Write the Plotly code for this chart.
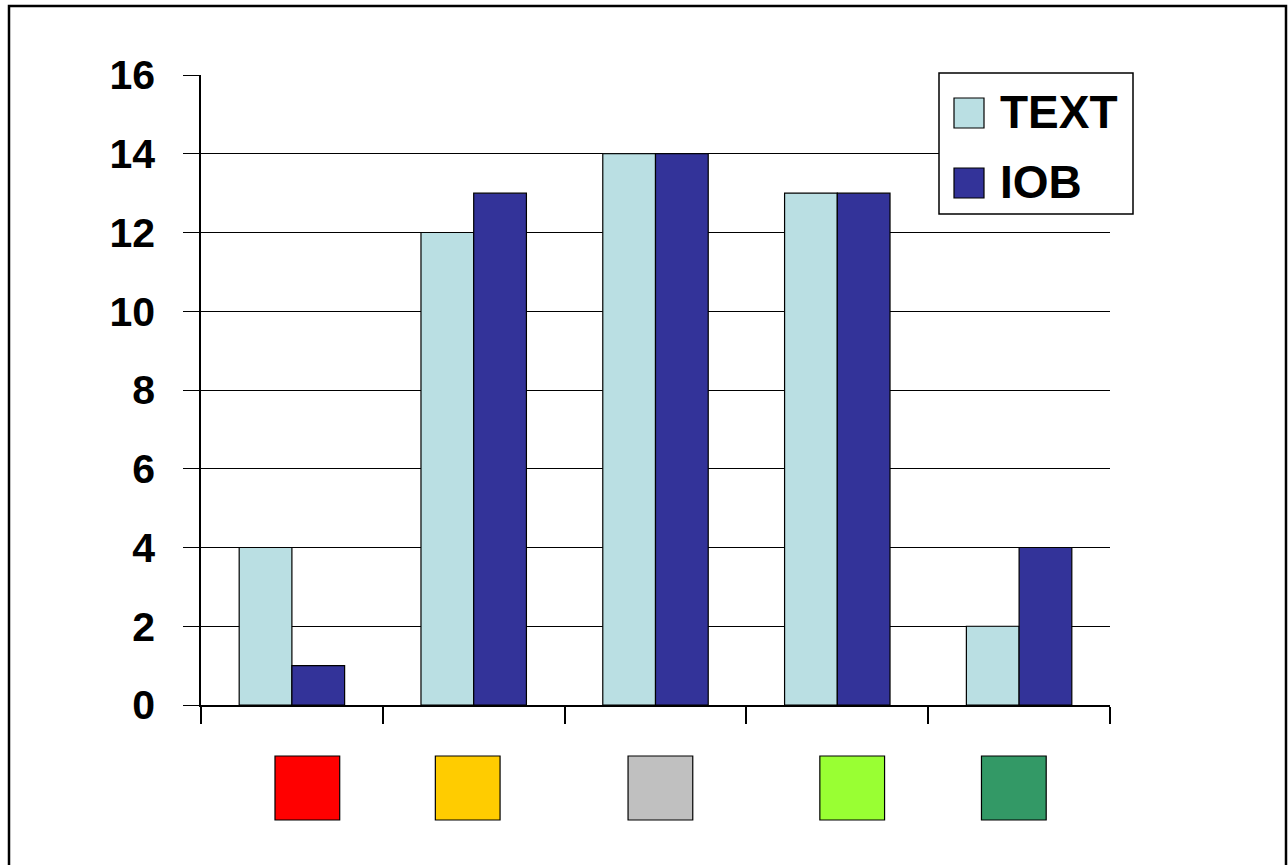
import plotly.graph_objects as go

# Categories are shown by colour swatches under the axis instead of text labels
categories = ["Red", "Amber", "Grey", "Lime", "Green"]
category_colors = ["#FF0000", "#FFCC00", "#C0C0C0", "#99FF33", "#339966"]
series_names = ["TEXT", "IOB"]
text_values = [4, 12, 14, 13, 2]
iob_values = [1, 13, 14, 13, 4]
series_colors = ["#BADFE3", "#333399"]
y_ticks = [0, 2, 4, 6, 8, 10, 12, 14, 16]

W, H = 1288, 865
L, R, T, B = 201, 1110, 75, 705  # plot area in pixels


def px(xp):
    return (xp - L) / (R - L)


def py(yp):
    return 1 - (yp - T) / (B - T)


FONT = "Liberation Sans, Arial, sans-serif"

fig = go.Figure()
for name, vals, col in zip(series_names, [text_values, iob_values], series_colors):
    fig.add_trace(go.Bar(
        x=categories, y=vals, name=name,
        marker=dict(color=col, line=dict(color="black", width=1.2)),
        showlegend=False,
    ))

shapes = []
# outer frame
shapes.append(dict(type="rect", xref="paper", yref="paper",
                   x0=px(9), x1=px(1286), y0=py(880), y1=py(6),
                   line=dict(color="black", width=2.5), layer="above"))
# colour swatches under each category
offsets = [0.085, -0.033, 0.027, 0.082, -0.029]
half = 0.178
for i, (c, off) in enumerate(zip(category_colors, offsets)):
    shapes.append(dict(type="rect", xref="x", yref="paper",
                       x0=i + off - half, x1=i + off + half,
                       y0=py(820), y1=py(756),
                       fillcolor=c, line=dict(color="black", width=1.2),
                       layer="above"))
# legend box
shapes.append(dict(type="rect", xref="paper", yref="paper",
                   x0=px(939), x1=px(1133), y0=py(214), y1=py(73),
                   fillcolor="white", line=dict(color="black", width=1.5),
                   layer="above"))
annotations = []
for k, (name, col) in enumerate(zip(series_names, series_colors)):
    top = 98 + 70 * k
    shapes.append(dict(type="rect", xref="paper", yref="paper",
                       x0=px(954), x1=px(984), y0=py(top + 30), y1=py(top),
                       fillcolor=col, line=dict(color="black", width=1.2),
                       layer="above"))
    annotations.append(dict(x=px(998), y=py(top + 14), xref="paper", yref="paper",
                            text=name, showarrow=False, xanchor="left",
                            yanchor="middle",
                            font=dict(family=FONT, size=46, color="black",
                                      weight="bold")))

fig.update_layout(
    width=W, height=H,
    margin=dict(l=L, r=W - R, t=T, b=H - B),
    paper_bgcolor="white", plot_bgcolor="white",
    barmode="group", bargap=0.42, bargroupgap=0,
    shapes=shapes, annotations=annotations,
    xaxis=dict(type="category", showticklabels=False, showgrid=False,
               showline=True, linecolor="black", linewidth=1.5,
               ticks="outside", tickson="boundaries", ticklen=17,
               tickcolor="black", tickwidth=1.5, range=[-0.5, 4.5]),
    yaxis=dict(range=[0, 16], tickvals=y_ticks, showgrid=True,
               gridcolor="black", gridwidth=1.2, zeroline=False,
               showline=True, linecolor="black", linewidth=1.5,
               ticks="outside", ticklen=16, tickcolor="black", tickwidth=1.2,
               ticklabelstandoff=20,
               tickfont=dict(family=FONT, size=41, color="black",
                             weight="bold")),
    showlegend=False,
)

fig.write_html("out.html")
